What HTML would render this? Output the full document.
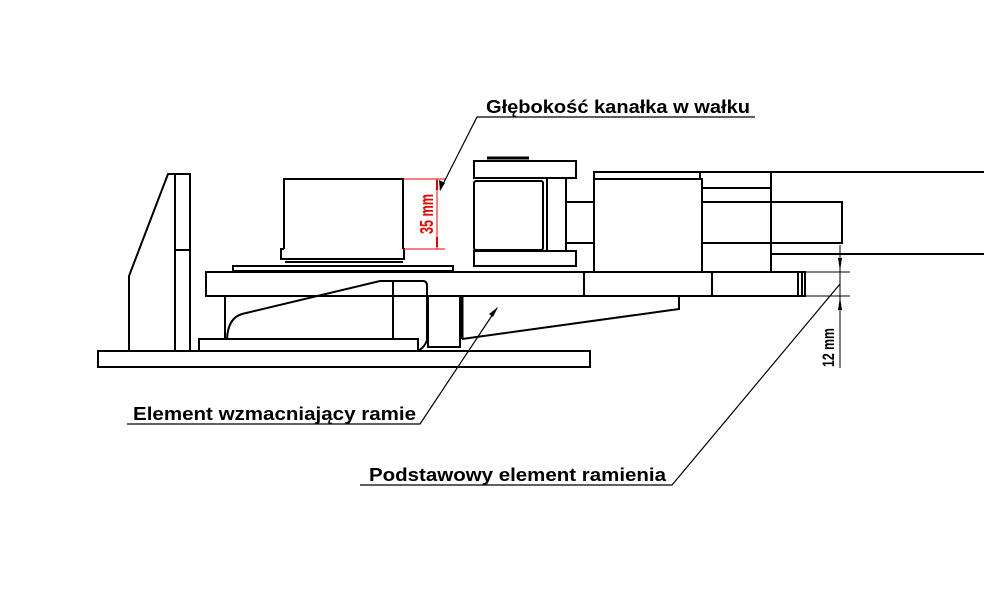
<!DOCTYPE html>
<html><head><meta charset="utf-8"><style>
html,body{margin:0;padding:0;background:#fff;}
svg{display:block;}
text{font-family:"Liberation Sans",sans-serif;font-weight:bold;}
</style></head><body>
<svg width="984" height="591" viewBox="0 0 984 591" xmlns="http://www.w3.org/2000/svg">
<g fill="none" stroke="#000" stroke-width="2">
<rect x="98" y="351" width="492" height="16"/>
<rect x="175" y="174" width="15" height="177"/>
<line x1="175" y1="250" x2="190" y2="250"/>
<polyline points="175,174 168,174 129,276 129,351"/>
<polyline points="284,249 284,179 403,179 403,249"/>
<polyline points="284,249 281,249 281,259 404,259 404,249 403,249"/>
<line x1="285" y1="262" x2="403" y2="262"/>
<rect x="233" y="266" width="220" height="5"/>
<rect x="206" y="272" width="599" height="24"/>
<line x1="584" y1="272" x2="584" y2="296"/>
<line x1="712" y1="272" x2="712" y2="296"/>
<line x1="798" y1="272" x2="798" y2="296"/>
<line x1="802" y1="272" x2="802" y2="296"/>
<line x1="225" y1="296" x2="225" y2="339"/>
<rect x="199" y="339" width="219" height="12"/>
<path d="M227,339 Q228,318 242,314 L380,281 L423,281 Q427,281 427,286 L427,340 Q425,347 418,351"/>
<line x1="393" y1="281" x2="393" y2="339"/>
<polyline points="428,296 428,347 460,347 460,296"/>
<line x1="462" y1="296" x2="462" y2="339" stroke-width="3"/>
<polyline points="462,339 679,309 679,296"/>
<rect x="474" y="161" width="102" height="17"/>
<line x1="487" y1="158" x2="529" y2="158" stroke-width="3"/>
<rect x="474" y="181" width="69" height="69" rx="2"/>
<rect x="474" y="251" width="102" height="15"/>
<line x1="547" y1="178" x2="547" y2="251"/>
<line x1="566" y1="178" x2="566" y2="251"/>
<polyline points="566,202 594,202"/>
<polyline points="566,243 594,243"/>
<rect x="594" y="179" width="108" height="93"/>
<polyline points="594,179 594,172 984,172"/>
<line x1="700" y1="172" x2="700" y2="179"/>
<line x1="771" y1="172" x2="771" y2="272"/>
<line x1="702" y1="188" x2="771" y2="188"/>
<rect x="702" y="202" width="140" height="41"/>
<line x1="771" y1="254" x2="984" y2="254"/>
</g>
<g stroke="#e00" stroke-width="1" fill="#e00">
<line x1="403" y1="179" x2="445" y2="179"/>
<line x1="403" y1="249" x2="445" y2="249"/>
<line x1="437" y1="179" x2="437" y2="249"/>
<line x1="437" y1="180" x2="437" y2="190" stroke-width="2"/>
<line x1="437" y1="237" x2="437" y2="247" stroke-width="2"/>
</g>
<text x="0" y="0" fill="#e00" font-size="18" transform="translate(433,234) rotate(-90)" textLength="40" lengthAdjust="spacingAndGlyphs">35 mm</text>
<g stroke="#000" stroke-width="1">
<line x1="805" y1="272" x2="850" y2="272"/>
<line x1="805" y1="296" x2="850" y2="296"/>
<line x1="840" y1="245" x2="840" y2="368"/>
</g>
<polygon points="838,258 842,258 840,271" fill="#000"/>
<polygon points="838,310 842,310 840,297" fill="#000"/>
<text x="0" y="0" fill="#000" font-size="17" transform="translate(834,367) rotate(-90)" textLength="39" lengthAdjust="spacingAndGlyphs">12 mm</text>
<g stroke="#000" stroke-width="1.2" fill="none">
<polyline points="755,117 477,117 440,190"/>
<polyline points="127,424 420,424 497,308"/>
<polyline points="360,485 672,485 840,284"/>
</g>
<polygon points="440,191 439,180 445,183" fill="#000"/>
<polygon points="498,307 493,317 489,314" fill="#000"/>
<g fill="#000" font-size="18">
<text x="486" y="113" textLength="264" lengthAdjust="spacingAndGlyphs">Głębokość kanałka w wałku</text>
<text x="133" y="420" textLength="283" lengthAdjust="spacingAndGlyphs">Element wzmacniający ramie</text>
<text x="369" y="481" textLength="297" lengthAdjust="spacingAndGlyphs">Podstawowy element ramienia</text>
</g>
</svg>
</body></html>
